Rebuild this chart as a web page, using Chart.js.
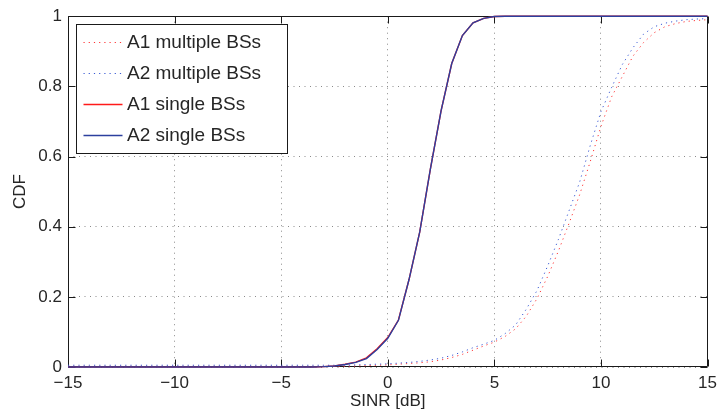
<!DOCTYPE html>
<html>
<head>
<meta charset="utf-8">
<script src="https://cdn.jsdelivr.net/npm/chart.js@4.4.1/dist/chart.umd.min.js"></script>
<style>
  html, body { margin: 0; padding: 0; background: #ffffff; }
  #wrap { width: 723px; height: 414px; }
</style>
</head>
<body>
<div id="wrap"><canvas id="c" width="723" height="414"></canvas></div>
<script>
// ---- Data ----
const sinrDb = [-15,-14.5,-14,-13.5,-13,-12.5,-12,-11.5,-11,-10.5,-10,-9.5,-9,-8.5,-8,-7.5,-7,-6.5,-6,-5.5,-5,-4.5,-4,-3.5,-3,-2.5,-2,-1.5,-1,-0.5,0,0.5,1,1.5,2,2.5,3,3.5,4,4.5,5,5.5,6,6.5,7,7.5,8,8.5,9,9.5,10,10.5,11,11.5,12,12.5,13,13.5,14,14.5,15];

const a1Multiple = [0.002,0.002,0.002,0.002,0.002,0.002,0.002,0.002,0.002,0.002,0.002,0.002,0.002,0.002,0.002,0.002,0.002,0.002,0.002,0.002,0.002,0.002,0.002,0.002,0.002,0.002,0.002,
  0.003,0.004,0.005,0.006,0.008,0.010,0.012,0.015,0.020,0.027,0.036,0.048,0.060,0.071,0.087,0.109,0.145,0.195,0.258,0.330,0.409,0.491,0.586,0.686,0.770,0.828,0.886,0.925,0.953,0.970,0.979,0.985,0.988,0.990];

const a2Multiple = [0.005,0.005,0.005,0.005,0.005,0.005,0.005,0.005,0.005,0.005,0.005,0.005,0.005,0.005,0.005,0.005,0.005,0.005,0.005,0.005,0.005,0.005,0.005,0.005,0.005,0.005,0.005,
  0.006,0.007,0.008,0.009,0.011,0.013,0.016,0.020,0.025,0.033,0.043,0.055,0.065,0.076,0.095,0.120,0.165,0.218,0.288,0.363,0.445,0.527,0.632,0.728,0.797,0.862,0.910,0.949,0.970,0.980,0.986,0.990,0.992,0.993];

const a1Single = [0,0,0,0,0,0,0,0,0,0,0,0,0,0,0,0,0,0,0,0,0,0,0,0,
  0.001,0.003,0.008,0.014,0.026,0.052,0.084,0.134,0.250,0.385,0.565,0.730,0.865,0.945,0.981,0.994,0.999,
  1,1,1,1,1,1,1,1,1,1,1,1,1,1,1,1,1,1,1,1];

const a2Single = [0,0,0,0,0,0,0,0,0,0,0,0,0,0,0,0,0,0,0,0,0,0,0,0,
  0.001,0.003,0.007,0.013,0.024,0.050,0.082,0.133,0.250,0.385,0.565,0.730,0.865,0.945,0.981,0.994,0.999,
  1,1,1,1,1,1,1,1,1,1,1,1,1,1,1,1,1,1,1,1];

const seriesLabels = ['A1 multiple BSs', 'A2 multiple BSs', 'A1 single BSs', 'A2 single BSs'];
const xTickValues = [-15, -10, -5, 0, 5, 10, 15];
const yTickValues = [0, 0.2, 0.4, 0.6, 0.8, 1];
const xTitle = 'SINR [dB]';
const yTitle = 'CDF';

// ---- Build datasets ----
const pair = arr => sinrDb.map((x, i) => ({ x: x, y: arr[i] }));
const FONT = "'Liberation Sans', Arial, Helvetica, sans-serif";
const TEXT = '#262626';

const datasets = [
  { label: seriesLabels[0], data: pair(a1Multiple), borderColor: '#ff3535', borderWidth: 1, borderDash: [1.2, 4], order: 3 },
  { label: seriesLabels[1], data: pair(a2Multiple), borderColor: '#3a5ad4', borderWidth: 1, borderDash: [1.2, 4], order: 2 },
  { label: seriesLabels[2], data: pair(a1Single), borderColor: '#ff1a1a', borderWidth: 1.4, borderDash: [], order: 1 },
  { label: seriesLabels[3], data: pair(a2Single), borderColor: '#2c409e', borderWidth: 1.4, borderDash: [], order: 0 }
].map(d => Object.assign(d, { pointRadius: 0, pointHoverRadius: 0, tension: 0, fill: false, clip: 4 }));

// Box + inward ticks (MATLAB style), drawn below the data
const boxPlugin = {
  id: 'matlabBox',
  beforeDatasetsDraw(chart) {
    const { ctx, chartArea: a, scales } = chart;
    const L = Math.round(a.left) + 0.5, R = Math.round(a.right) - 0.5;
    const T = Math.round(a.top) + 0.5, B = Math.round(a.bottom) - 0.5;
    const tl = 7;
    ctx.save();
    ctx.strokeStyle = '#1a1a1a';
    ctx.lineWidth = 1;
    ctx.beginPath();
    ctx.rect(L, T, R - L, B - T);
    scales.x.ticks.forEach(t => {
      const px = Math.round(scales.x.getPixelForValue(t.value)) + 0.5;
      ctx.moveTo(px, B); ctx.lineTo(px, B - tl);
      ctx.moveTo(px, T); ctx.lineTo(px, T + tl);
    });
    scales.y.ticks.forEach(t => {
      const py = Math.round(scales.y.getPixelForValue(t.value)) + 0.5;
      ctx.moveTo(L, py); ctx.lineTo(L + tl, py);
      ctx.moveTo(R, py); ctx.lineTo(R - tl, py);
    });
    ctx.stroke();
    ctx.restore();
  }
};

// Legend box inside the plot (top-left), drawn above the data
const legendPlugin = {
  id: 'insideLegend',
  afterDatasetsDraw(chart) {
    const { ctx, chartArea: a } = chart;
    const x0 = Math.round(a.left) + 8.5, y0 = Math.round(a.top) + 8.5;
    const w = 211, h = 129;
    const rowOffsets = [26, 57, 88, 119];
    ctx.save();
    ctx.fillStyle = '#ffffff';
    ctx.fillRect(x0, y0, w, h);
    ctx.strokeStyle = '#1a1a1a';
    ctx.lineWidth = 1;
    ctx.strokeRect(x0, y0, w, h);
    chart.data.datasets.forEach((ds, i) => {
      const y = Math.round(a.top) + rowOffsets[i] + 0.5;
      ctx.beginPath();
      ctx.setLineDash(ds.borderDash || []);
      ctx.strokeStyle = ds.borderColor;
      ctx.lineWidth = ds.borderWidth;
      ctx.moveTo(x0 + 7, y);
      ctx.lineTo(x0 + 46, y);
      ctx.stroke();
      ctx.setLineDash([]);
      ctx.fillStyle = TEXT;
      ctx.font = '19px ' + FONT;
      ctx.textAlign = 'left';
      ctx.textBaseline = 'middle';
      ctx.fillText(ds.label, x0 + 50.5, y);
    });
    ctx.restore();
  }
};

const fmtX = v => (v < 0 ? '\u2212' + Math.abs(v) : String(v));
const fmtY = v => (v === 0 ? '0' : v === 1 ? '1' : Number(v).toFixed(1));

new Chart(document.getElementById('c'), {
  type: 'line',
  data: { datasets: datasets },
  options: {
    responsive: false,
    animation: false,
    events: [],
    layout: { padding: { left: 0, right: 11, top: 14, bottom: 0 } },
    plugins: { legend: { display: false }, tooltip: { enabled: false } },
    scales: {
      x: {
        type: 'linear',
        min: xTickValues[0],
        max: xTickValues[xTickValues.length - 1],
        afterBuildTicks: s => { s.ticks = xTickValues.map(v => ({ value: v })); },
        afterFit: s => { s.height = 47; },
        ticks: { callback: v => fmtX(v), color: TEXT, font: { family: FONT, size: 17 }, padding: 6, maxRotation: 0, autoSkip: false },
        grid: { color: '#8a8a8a', lineWidth: 1, drawTicks: false },
        border: { display: false, dash: [1, 4.5] },
        title: { display: true, text: xTitle, color: TEXT, font: { family: FONT, size: 17 }, padding: { top: 0, bottom: 2 } }
      },
      y: {
        type: 'linear',
        min: yTickValues[0],
        max: yTickValues[yTickValues.length - 1],
        afterBuildTicks: s => { s.ticks = yTickValues.map(v => ({ value: v })); },
        afterFit: s => { s.width = 68; },
        ticks: { callback: v => fmtY(v), color: TEXT, font: { family: FONT, size: 17 }, padding: 6, autoSkip: false },
        grid: { color: '#8a8a8a', lineWidth: 1, drawTicks: false },
        border: { display: false, dash: [1, 4.5] },
        title: { display: true, text: yTitle, color: TEXT, font: { family: FONT, size: 17 }, padding: { top: 10, bottom: 0 } }
      }
    }
  },
  plugins: [boxPlugin, legendPlugin]
});
</script>
</body>
</html>
